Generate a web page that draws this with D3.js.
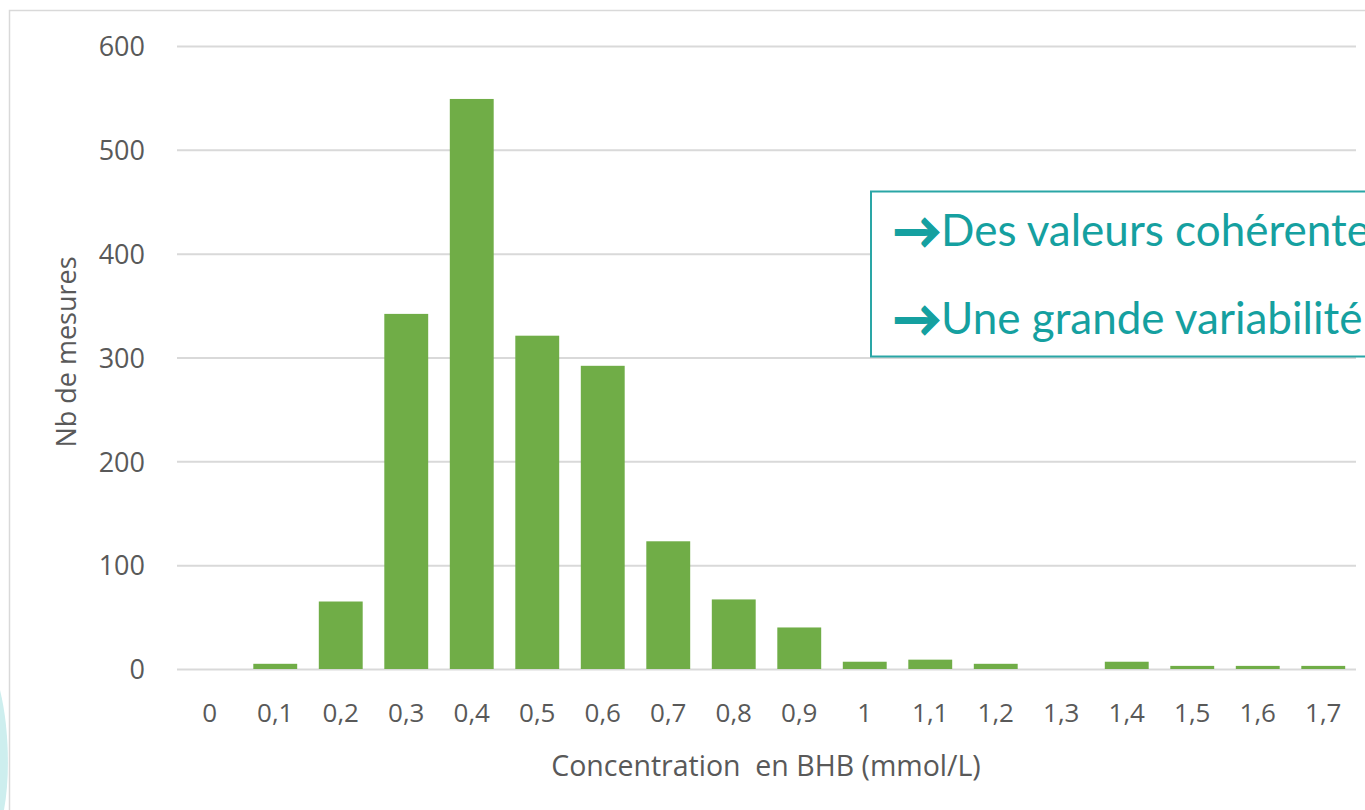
<!DOCTYPE html>
<html>
<head>
<meta charset="utf-8">
<script src="https://cdn.jsdelivr.net/npm/d3@7"></script>
<style>
  html, body { margin: 0; padding: 0; background: #ffffff; }
  svg { display: block; }
</style>
</head>
<body>
<svg id="chart" width="1365" height="810"></svg>
<script>
// BHB concentration classes (mmol/L) and number of measurements per class
const categories = ["0", "0,1", "0,2", "0,3", "0,4", "0,5", "0,6", "0,7", "0,8", "0,9",
                    "1", "1,1", "1,2", "1,3", "1,4", "1,5", "1,6", "1,7"];
const counts = [0, 5, 65, 342, 549, 321, 292, 123, 67, 40, 7, 9, 5, 0, 7, 3, 3, 3];
const yTicks = [0, 100, 200, 300, 400, 500, 600];
const xTitle = "Concentration\u00a0 en BHB (mmol/L)";
const yTitle = "Nb de mesures";
const notes = ["Des valeurs cohérentes", "Une grande variabilité"];

const W = 1365, H = 810;
const margin = { left: 177, right: 9, top: 46, bottom: 141 };
const svg = d3.select("#chart");

const x = d3.scaleBand()
  .domain(categories)
  .range([margin.left, W - margin.right])
  .paddingInner(0.33)
  .paddingOuter(0.165);

const y = d3.scaleLinear()
  .domain([0, 600])
  .range([H - margin.bottom, margin.top]);

const axisFont = "'Segoe UI', 'Open Sans', sans-serif";
const textColor = "#595959";

// slide decoration at the lower-left corner
svg.append("path")
  .attr("d", "M0,690 C8,722 11,772 4,810 L0,810 Z")
  .attr("fill", "#cdeeee");

// chart frame (only top and left edges visible)
svg.append("path")
  .attr("d", `M9.5,${H} L9.5,10.5 L${W},10.5`)
  .attr("fill", "none")
  .attr("stroke", "#d9d9d9")
  .attr("stroke-width", 1.5);

// horizontal gridlines + y tick labels
const yAxis = d3.axisLeft(y)
  .tickValues(yTicks)
  .tickSize(-(x.range()[1] - x.range()[0]))
  .tickPadding(32)
  .tickFormat(d3.format("d"));

const gy = svg.append("g")
  .attr("transform", `translate(${margin.left},0)`)
  .call(yAxis);
gy.select(".domain").remove();
gy.selectAll(".tick line")
  .attr("stroke", "#d9d9d9")
  .attr("stroke-width", 2);
gy.selectAll(".tick text")
  .attr("fill", textColor)
  .attr("font-family", axisFont)
  .attr("font-size", 27)
  .attr("dy", "0.36em");

// bars
svg.append("g")
  .selectAll("rect")
  .data(counts)
  .join("rect")
  .attr("x", (d, i) => x(categories[i]))
  .attr("width", x.bandwidth())
  .attr("y", d => y(d))
  .attr("height", d => y(0) - y(d))
  .attr("fill", "#70ad47");

// x category labels
const xAxis = d3.axisBottom(x).tickSize(0).tickPadding(35);
const gx = svg.append("g")
  .attr("transform", `translate(0,${y(0)})`)
  .call(xAxis);
gx.select(".domain").remove();
gx.selectAll(".tick text")
  .attr("fill", textColor)
  .attr("font-family", axisFont)
  .attr("font-size", 26);

// axis titles
svg.append("text")
  .attr("x", 766)
  .attr("y", 776)
  .attr("text-anchor", "middle")
  .attr("fill", textColor)
  .attr("font-family", axisFont)
  .attr("font-size", 28.5)
  .text(xTitle);

svg.append("text")
  .attr("transform", "translate(76,352) rotate(-90)")
  .attr("text-anchor", "middle")
  .attr("fill", textColor)
  .attr("font-family", axisFont)
  .attr("font-size", 27)
  .text(yTitle);

// annotation box
const box = svg.append("g");
box.append("rect")
  .attr("x", 871)
  .attr("y", 191.5)
  .attr("width", 520)
  .attr("height", 165)
  .attr("fill", "#ffffff")
  .attr("stroke", "#2aa6a6")
  .attr("stroke-width", 2);

const teal = "#15a0a0";
const noteText = box.selectAll("text.note")
  .data(notes)
  .join("text")
  .attr("class", "note")
  .attr("x", 893)
  .attr("y", (d, i) => 246 + i * 88)
  .attr("fill", teal)
  .attr("font-family", "Lato, 'Open Sans', sans-serif")
  .attr("font-size", 44);

// arrow bullet (heavier weight) followed by the note itself
noteText.append("tspan")
  .attr("font-weight", 700)
  .attr("font-size", 48)
  .attr("stroke", teal)
  .attr("stroke-width", 1.6)
  .attr("dy", 2)
  .text("\u2192");
noteText.append("tspan")
  .attr("dy", -2)
  .attr("dx", 0)
  .text(d => d);
</script>
</body>
</html>
